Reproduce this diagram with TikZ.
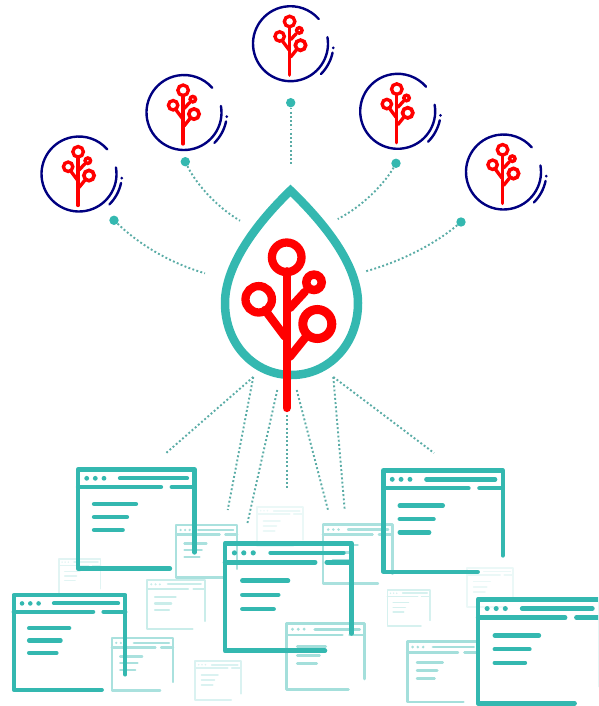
\documentclass[tikz,border=0pt]{standalone}
\definecolor{tealmain}{RGB}{52,184,176}
\definecolor{navyring}{RGB}{0,0,128}
\definecolor{treered}{RGB}{255,0,0}
\definecolor{dotline}{RGB}{90,172,166}
\tikzset{
  linkdots/.style={color=dotline,line width=1.9pt,dash pattern=on 1.9pt off 2.3pt},
  hub/.style={circle,fill=tealmain,inner sep=0pt,minimum size=9.4pt},
}
% #1 x, #2 y, #3 scale, #4 colour
\newcommand{\appwin}[4]{%
\begin{scope}[shift={(#1,#2)},scale=#3,color=#4,line width=#3*4.3pt,line cap=round,line join=round]
  \draw (92,99) -- (0,99) -- (0,0) -- (116.5,0) -- (116.5,83);
  \fill (8.7,8.8) circle (2.4) (17.3,8.8) circle (2.4) (26,8.8) circle (2.4);
  \draw (42,8.8) -- (109,8.8);
  \draw (0,17.5) -- (83,17.5) (93.7,17.5) -- (116.5,17.5);
  \draw (16,34.5) -- (58,34.5) (16,47.5) -- (49,47.5) (16,60.5) -- (44.7,60.5);
\end{scope}}
% tree: local origin at the top circle centre; #1 x, #2 y, #3 scale, #4 stroke factor
\newcommand{\branchtree}[4]{%
\begin{scope}[shift={(#1,#2)},scale=#3,color=treered,line cap=round]
  \draw[line width=#3*#4*8.3pt] (0,14) -- (0,150.7);
  \draw[line width=#3*#4*8.3pt] (0,0) circle (14.8);
  \draw[line width=#3*#4*8.3pt] (-28,42) circle (13.2);
  \draw[line width=#3*#4*8.5pt] (27.3,25) circle (7.7);
  \draw[line width=#3*#4*9pt] (30.6,66.7) circle (14.5);
  \draw[line width=#3*#4*8.3pt] (-21.7,52.7) -- (-1.7,79.4);
  \draw[line width=#3*#4*8.3pt] (18.3,34.4) -- (3.3,50.7);
  \draw[line width=#3*#4*8.3pt] (18.3,80.7) -- (3.3,99.4);
\end{scope}}
% ring icon centred at #1,#2
\newcommand{\ringicon}[2]{%
\begin{scope}[shift={(#1,#2)},color=navyring,line cap=round]
  \draw[line width=2.4pt] (-10:37.5) arc[start angle=-10,end angle=319,radius=37.5];
  \draw[line width=2.4pt] (12:43) arc[start angle=12,end angle=45,radius=43];
  \fill (5.6:43) circle (1.5);
\end{scope}
\branchtree{#1-0.9}{#2-22.2}{0.356}{1.14}}
\begin{document}
\begin{tikzpicture}[x=1pt,y=-1pt]
\useasboundingbox (0,0) rectangle (598,706);
\clip (0,0) rectangle (598,706);
% faint windows
\appwin{257.3}{507.3}{0.39}{tealmain!10!white}
\appwin{467.3}{568}{0.395}{tealmain!10!white}
\appwin{59}{559}{0.358}{tealmain!15!white}
\appwin{195.3}{661.3}{0.39}{tealmain!18!white}
\appwin{387.3}{590}{0.366}{tealmain!20!white}
\appwin{147}{580}{0.495}{tealmain!26!white}
\appwin{176}{525.3}{0.526}{tealmain!42!white}
\appwin{111.7}{638.3}{0.527}{tealmain!42!white}
\appwin{323}{524.3}{0.597}{tealmain!42!white}
\appwin{286.7}{623.3}{0.67}{tealmain!45!white}
\appwin{407.3}{641.7}{0.61}{tealmain!45!white}
% strong windows
\appwin{78}{469.5}{1}{tealmain}
\appwin{13.7}{595}{0.958}{tealmain}
\appwin{225}{543.3}{1.086}{tealmain}
\appwin{383.3}{470.3}{1.026}{tealmain}
\appwin{478}{599.3}{1.05}{tealmain}
% icons
\ringicon{79}{174}
\ringicon{184}{112.5}
\ringicon{290.5}{43.7}
\ringicon{397.7}{111.3}
\ringicon{503.5}{172}
% hubs
\node[hub] (h1) at (114,220.3) {};
\node[hub] (h2) at (185.3,161.7) {};
\node[hub] (h3) at (290.7,102.7) {};
\node[hub] (h4) at (396,163.3) {};
\node[hub] (h5) at (461,222) {};
\coordinate (e1) at (205,273.3);
\coordinate (e2) at (240,220.7);
\coordinate (e3) at (290.7,166);
\coordinate (e4) at (337.7,219);
\coordinate (e5) at (364.3,271.7);
\draw[linkdots] (h1) .. controls (140,245) and (170,263) .. (e1);
\draw[linkdots] (h2) .. controls (195,182) and (215,206) .. (e2);
\draw[linkdots] (h3) -- (e3);
\draw[linkdots] (h4) .. controls (385,183) and (362,207) .. (e4);
\draw[linkdots] (h5) .. controls (435,244) and (400,262) .. (e5);
% fan
\coordinate (fa) at (253.3,377);
\coordinate (fb) at (277.3,390);
\coordinate (fc) at (286.7,415);
\coordinate (fd) at (296.7,390);
\coordinate (ff) at (333.3,377);
\coordinate (ta) at (165,454);
\coordinate (tb) at (227.7,510);
\coordinate (tc) at (247,525);
\coordinate (td) at (286.7,488);
\coordinate (te) at (328,510);
\coordinate (tf) at (344.7,510);
\coordinate (tg) at (434,453);
\draw[linkdots] (fa) -- (ta);
\draw[linkdots] (fa) -- (tb);
\draw[linkdots] (fb) -- (tc);
\draw[linkdots] (fc) -- (td);
\draw[linkdots] (fd) -- (te);
\draw[linkdots] (ff) -- (tf);
\draw[linkdots] (ff) -- (tg);
% drop
\draw[tealmain,line width=8.5pt,miter limit=10]
  (290.5,190.5) .. controls (262,218) and (225,262) .. (225,303)
  .. controls (225,345) and (255,375) .. (291.5,375)
  .. controls (328,375) and (358,345) .. (358,303)
  .. controls (358,262) and (319,218) .. cycle;
\branchtree{286.7}{257.3}{1}{1}
\end{tikzpicture}
\end{document}
